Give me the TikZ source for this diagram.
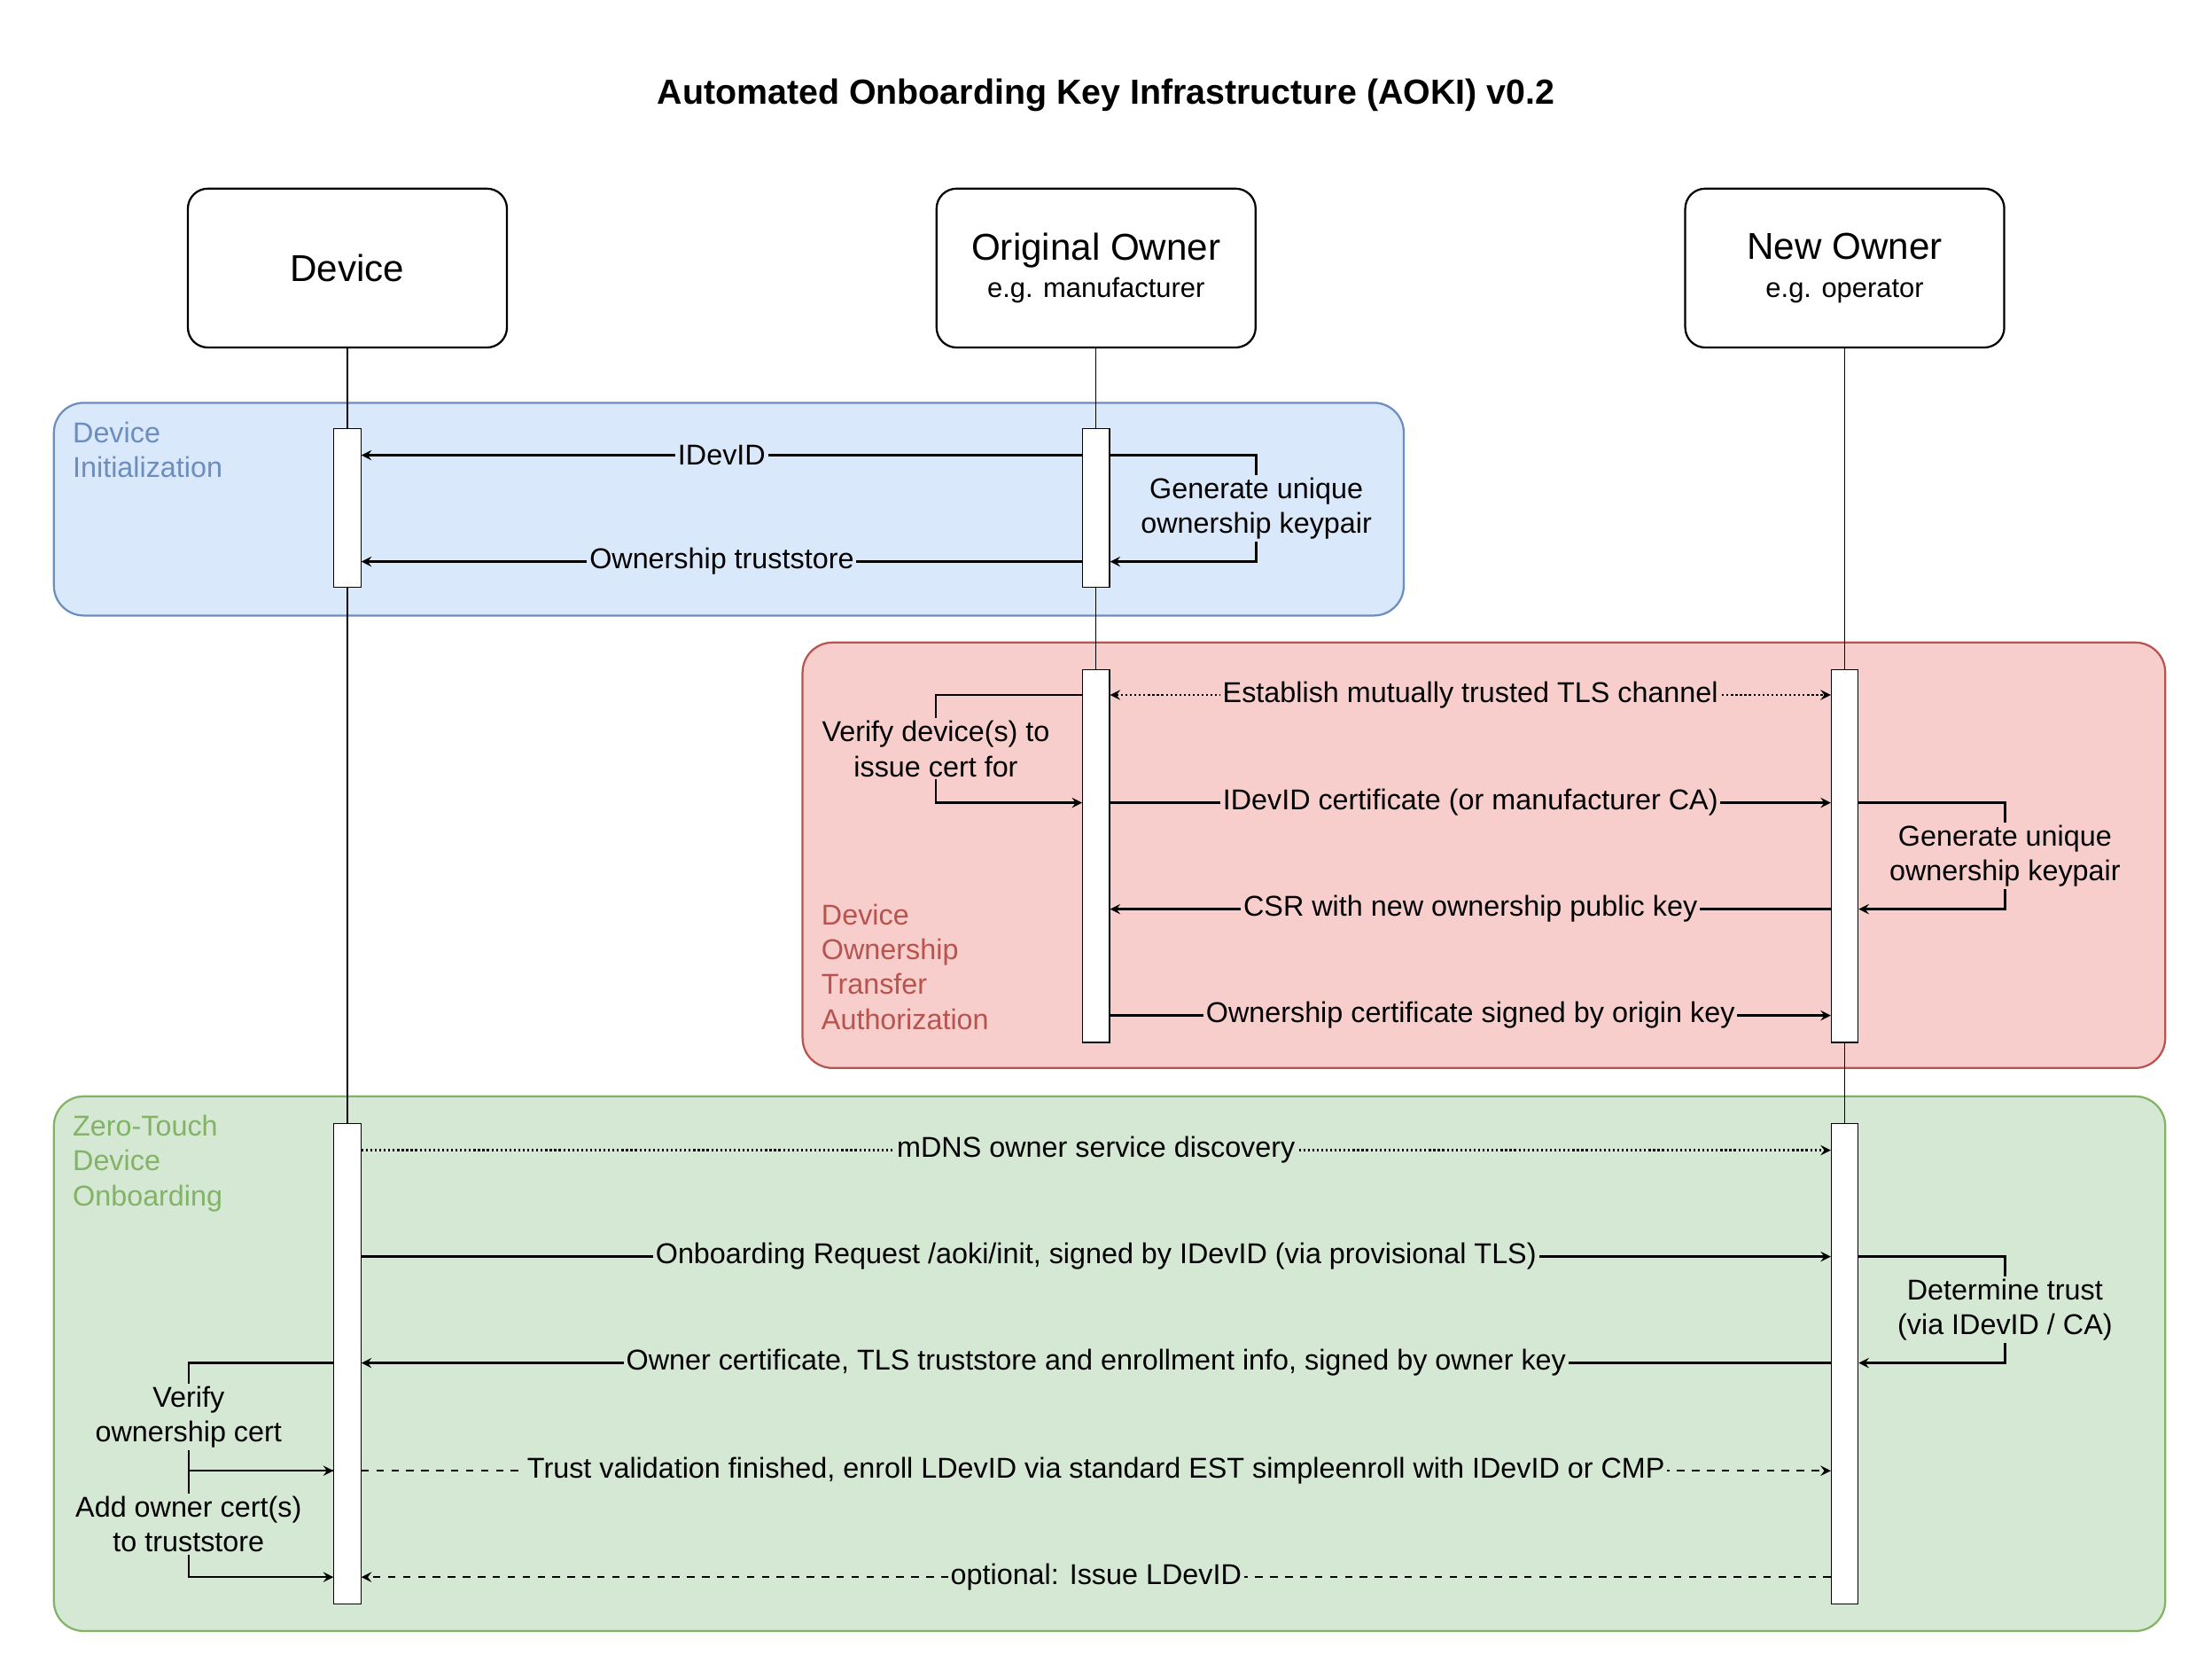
\documentclass[tikz,border=0pt]{standalone}
\usepackage{fontspec}
\setmainfont{Liberation Sans}
\usetikzlibrary{arrows}
\definecolor{initfill}{HTML}{DAE8FC}
\definecolor{initdraw}{HTML}{6C8EBF}
\definecolor{authfill}{HTML}{F8CECC}
\definecolor{authdraw}{HTML}{B85450}
\definecolor{zerofill}{HTML}{D5E8D4}
\definecolor{zerodraw}{HTML}{82B366}
\tikzset{
  actor/.style={draw,rounded corners=8pt,minimum width=45mm,minimum height=22.4mm,align=center,line width=0.8pt},
  bar/.style={draw,fill=white,minimum width=3.8mm,inner sep=0pt},
  phase/.style={rounded corners=12pt,line width=0.8pt},
  msg/.style={->,>=stealth,line width=0.8pt},
  lbl/.style={inner sep=1pt,font=\fontsize{11.5}{14}\selectfont,align=center},
  phaselbl/.style={anchor=north west,align=left,font=\fontsize{11.5}{14}\selectfont,inner sep=0pt}
}
\begin{document}
\begin{tikzpicture}[x=0.2mm,y=-0.2mm]
  \useasboundingbox (0,0) rectangle (1560,1183);
  \node[font=\fontsize{14}{16}\selectfont\bfseries] (title) at (780,67) {Automated Onboarding Key Infrastructure (AOKI) v0.2};
  % phases:
  \draw[phase,fill=initfill,draw=initdraw] (38,284) rectangle (990,434);
  \node[phaselbl,text=initdraw] (pinit) at (51,297) {Device\\Initialization};
  \draw[phase,fill=authfill,draw=authdraw] (566,453) rectangle (1527,753);
  \node[phaselbl,text=authdraw] (pauth) at (579,637) {Device\\Ownership\\Transfer\\Authorization};
  \draw[phase,fill=zerofill,draw=zerodraw] (38,773) rectangle (1527,1150);
  \node[phaselbl,text=zerodraw] (pzero) at (51,786) {Zero-Touch\\Device\\Onboarding};
  % actors:
  \node[actor,font=\fontsize{15}{18}\selectfont] (dev) at (245,189) {Device};
  \node[actor] (oo) at (773,189) {{\fontsize{15}{18}\selectfont Original Owner}\\[3pt]{\fontsize{11}{13}\selectfont e.g. manufacturer}};
  \node[actor] (no) at (1301,189) {{\fontsize{15}{18}\selectfont New Owner}\\[3pt]{\fontsize{11}{13}\selectfont e.g. operator}};
  % lifelines:
  \draw (dev.south) -- (245,1131);
  \draw (oo.south) -- (773,735);
  \draw (no.south) -- (1301,1131);
  % activations:
  \node[bar,minimum height=22.4mm] (devA) at (245,358) {};
  \node[bar,minimum height=22.4mm] (ooA) at (773,358) {};
  \node[bar,minimum height=52.6mm] (ooB) at (773,603.5) {};
  \node[bar,minimum height=52.6mm] (noB) at (1301,603.5) {};
  \node[bar,minimum height=67.8mm] (devC) at (245,961.5) {};
  \node[bar,minimum height=67.8mm] (noC) at (1301,961.5) {};
  % device initialization:
  \draw[msg] (ooA.west |- 0,321) -- node[lbl,fill=initfill] {IDevID} (devA.east |- 0,321);
  \draw[msg] (ooA.east |- 0,321) -- (886,321) -- node[lbl,fill=initfill] {Generate unique\\ownership keypair} (886,396) -- (ooA.east |- 0,396);
  \draw[msg] (ooA.west |- 0,396) -- node[lbl,fill=initfill] {Ownership truststore} (devA.east |- 0,396);
  % transfer authorization:
  \draw[msg,<->,densely dotted] (ooB.east |- 0,490) -- node[lbl,fill=authfill] {Establish mutually trusted TLS channel} (noB.west |- 0,490);
  \draw[msg] (ooB.west |- 0,490) -- (660,490) -- node[lbl,fill=authfill] {Verify device(s) to\\issue cert for} (660,566) -- (ooB.west |- 0,566);
  \draw[msg] (ooB.east |- 0,566) -- node[lbl,fill=authfill] {IDevID certificate (or manufacturer CA)} (noB.west |- 0,566);
  \draw[msg] (noB.east |- 0,566) -- (1414,566) -- node[lbl,fill=authfill] {Generate unique\\ownership keypair} (1414,641) -- (noB.east |- 0,641);
  \draw[msg] (noB.west |- 0,641) -- node[lbl,fill=authfill] {CSR with new ownership public key} (ooB.east |- 0,641);
  \draw[msg] (ooB.east |- 0,716) -- node[lbl,fill=authfill] {Ownership certificate signed by origin key} (noB.west |- 0,716);
  % zero-touch onboarding:
  \draw[msg,densely dotted] (devC.east |- 0,811) -- node[lbl,fill=zerofill] {mDNS owner service discovery} (noC.west |- 0,811);
  \draw[msg] (devC.east |- 0,886) -- node[lbl,fill=zerofill] {Onboarding Request /aoki/init, signed by IDevID (via provisional TLS)} (noC.west |- 0,886);
  \draw[msg] (noC.east |- 0,886) -- (1414,886) -- node[lbl,fill=zerofill] {Determine trust\\(via IDevID / CA)} (1414,961) -- (noC.east |- 0,961);
  \draw[msg] (noC.west |- 0,961) -- node[lbl,fill=zerofill] {Owner certificate, TLS truststore and enrollment info, signed by owner key} (devC.east |- 0,961);
  \draw[msg] (devC.west |- 0,961) -- (133,961) -- node[lbl,fill=zerofill] {Verify\\ownership cert} (133,1037) -- (devC.west |- 0,1037);
  \draw[msg,dashed] (devC.east |- 0,1037) -- node[lbl,fill=zerofill] {Trust validation finished, enroll LDevID via standard EST simpleenroll with IDevID or CMP} (noC.west |- 0,1037);
  \draw[msg] (devC.west |- 0,1037) -- (133,1037) -- node[lbl,fill=zerofill] {Add owner cert(s)\\to truststore} (133,1112) -- (devC.west |- 0,1112);
  \draw[msg,dashed] (noC.west |- 0,1112) -- node[lbl,fill=zerofill] {optional: Issue LDevID} (devC.east |- 0,1112);
\end{tikzpicture}
\end{document}
